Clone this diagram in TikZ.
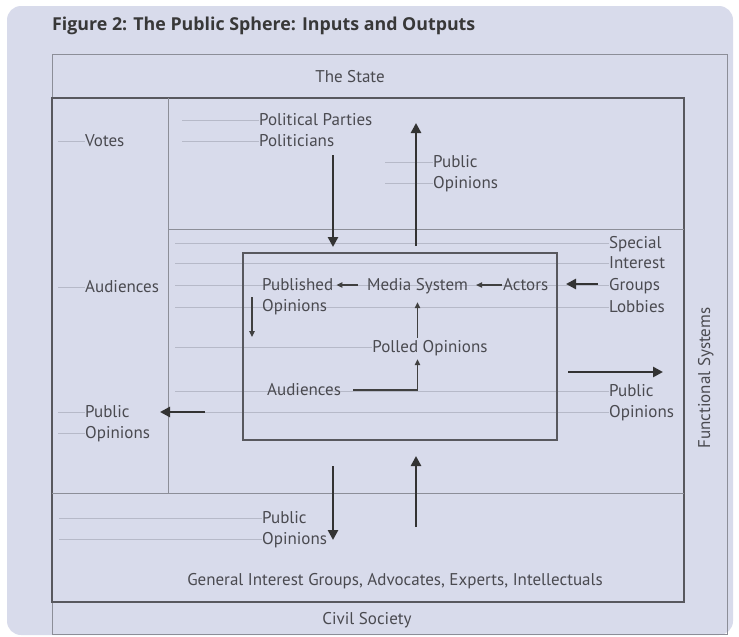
\documentclass[tikz,border=0pt]{standalone}
\usepackage{fontspec}
\setmainfont{PT Sans}
\newfontfamily\titrefont{Open Sans}
\usetikzlibrary{arrows.meta}
\pgfdeclarelayer{fond}
\pgfsetlayers{fond,main}

\definecolor{panneau}{RGB}{216,219,235}
\definecolor{texte}{RGB}{74,74,80}
\definecolor{trait}{RGB}{88,88,94}
\definecolor{gris}{RGB}{140,142,152}
\definecolor{repere}{RGB}{182,185,200}

\tikzset{
  lbl/.style={anchor=west, inner sep=0pt, text=texte, text height=11pt, text depth=1pt,
    font=\fontsize{17}{21}\selectfont},
  ctr/.style={lbl, anchor=center},
  repere/.style={draw=repere, line width=0.8pt},
  grosse/.style={draw=black!80, line width=2.6pt, -{Triangle[length=10pt,width=10pt]}},
  fine/.style={draw=black!75, line width=1.2pt, -{Triangle[length=6pt,width=5.5pt]}},
}

\begin{document}
\begin{tikzpicture}[x=1pt,y=-1pt]
\useasboundingbox (0,0) rectangle (739,637);
\begin{pgfonlayer}{fond}
\fill[panneau, rounded corners=14pt] (7,6) rectangle (733,635);
\end{pgfonlayer}

\node[anchor=west, inner sep=0pt, text=black!78, font=\titrefont\fontsize{17.8}{20}\selectfont\bfseries]
  (titre) at (52,26) {Figure 2: The Public Sphere: Inputs and Outputs};

% les cadres
\draw[gris, line width=1pt] (52,54) rectangle (727,634);
\draw[trait, line width=1.4pt] (52,98) rectangle (684,602);
\draw[gris, line width=1pt] (168,98) -- (168,493);
\draw[gris, line width=1pt] (168,229) -- (684,229);
\draw[gris, line width=1pt] (52,493) -- (684,493);
\draw[trait, line width=1.3pt] (243,253) rectangle (557,440);

% titres des zones
\node[ctr] (etat) at (350,77) {The State};
\node[ctr] (civil) at (367,619) {Civil Society};
\node[ctr] (general) at (395,580) {General Interest Groups, Advocates, Experts, Intellectuals};
\node[ctr, rotate=90] (fonct) at (705,378) {Functional Systems};

% colonne de gauche
\node[lbl] (votes) at (85,141) {Votes};
\node[lbl] (audg) at (85,287) {Audiences};
\node[lbl] (pubg) at (85,412) {Public};
\node[lbl] (opg) at (85,433) {Opinions};

% en haut
\node[lbl] (partis) at (259,120) {Political Parties};
\node[lbl] (polit) at (259,141) {Politicians};
\node[lbl] (pubh) at (433,162) {Public};
\node[lbl] (oph) at (433,183) {Opinions};

% a droite
\node[lbl] (spec) at (609,243) {Special};
\node[lbl] (inter) at (609,263) {Interest};
\node[lbl] (groups) at (609,285) {Groups};
\node[lbl] (lobb) at (609,307) {Lobbies};
\node[lbl] (pubd) at (609,391) {Public};
\node[lbl] (opd) at (609,412) {Opinions};

% en bas
\node[lbl] (pubb) at (262,518) {Public};
\node[lbl] (opb) at (262,539) {Opinions};

% systeme mediatique
\node[lbl] (publ) at (262,285) {Published};
\node[lbl] (opp) at (262,306) {Opinions};
\node[ctr] (media) at (417.5,285) {Media System};
\node[lbl] (actors) at (503,285) {Actors};
\node[ctr] (polled) at (430,347) {Polled Opinions};
\node[lbl] (audc) at (267,390) {Audiences};

% traits de repere
\begin{pgfonlayer}{fond}
\draw[repere] (58,141) -- (votes.west);
\draw[repere] (58,287) -- (audg.west);
\draw[repere] (58,412) -- (pubg.west);
\draw[repere] (58,433) -- (opg.west);
\draw[repere] (182,120) -- (partis.west);
\draw[repere] (182,141) -- (polit.west);
\draw[repere] (385,162) -- (pubh.west);
\draw[repere] (385,183) -- (oph.west);
\foreach \n in {spec,inter,groups,lobb,pubd,opd}
  \draw[repere] (\n.west) -- ++(-434,0);
\draw[repere] (175,347) -- (polled.west);
\draw[repere] (59,518) -- (pubb.west);
\draw[repere] (59,539) -- (opb.west);
\end{pgfonlayer}

% grosses fleches
\coordinate (a1) at (333,155); \coordinate (b1) at (333,247);
\coordinate (a2) at (416,246); \coordinate (b2) at (416,123);
\coordinate (a3) at (333,466); \coordinate (b3) at (333,540);
\coordinate (a4) at (416,527); \coordinate (b4) at (416,456);
\coordinate (a5) at (205,412); \coordinate (b5) at (160,412);
\coordinate (a6) at (598,284); \coordinate (b6) at (566,284);
\coordinate (a7) at (568,372); \coordinate (b7) at (663,372);
\foreach \i in {1,...,7}
  \draw[grosse] (a\i) -- (b\i);

% fleches fines
\draw[fine, shorten <=9pt, shorten >=3pt] (media.west) -- (publ.east);
\draw[fine, shorten <=1pt, shorten >=8pt] (actors.west) -- (media.east);
\draw[fine, shorten <=3pt, shorten >=11pt] (media.south |- polled.north) -- (media.south);
\draw[fine, shorten <=12pt, shorten >=6pt] (audc.east) -| (media.south |- polled.south);
\coordinate (c1) at (252,297); \coordinate (d1) at (252,337);
\draw[fine] (c1) -- (d1);
\end{tikzpicture}
\end{document}
